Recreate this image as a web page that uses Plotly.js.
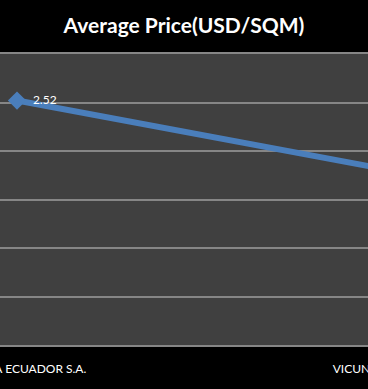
<!DOCTYPE html>
<html>
<head>
<meta charset="utf-8">
<script src="https://cdn.plot.ly/plotly-3.0.1.min.js"></script>
<style>
  html, body { margin: 0; padding: 0; background: #000; width: 368px; height: 389px; overflow: hidden; }
  #wrap { position: absolute; left: 0; top: 0; width: 368px; height: 389px; overflow: hidden; }
  #chart { position: absolute; left: -60px; top: 0; width: 528px; height: 389px; }
</style>
</head>
<body>
<div id="wrap"><div id="chart"></div></div>
<script>
const categories = ["VICUNHA ECUADOR S.A.", "VICUNHA TEXTIL S.A."];
const avgPrice = [2.52, 1.80];
const priceLabels = ["2.52", "1.80"];
const yTicks = [0, 0.5, 1, 1.5, 2, 2.5, 3];

const trace = {
  x: [0, 1],
  y: avgPrice,
  type: 'scatter',
  mode: 'lines+markers+text',
  text: priceLabels.map(t => '\u00a0\u00a0' + t),
  textposition: 'middle right',
  textfont: { family: 'Lato, sans-serif', size: 12, color: '#ffffff' },
  line: { color: '#4a7ebb', width: 6 },
  marker: { symbol: 'diamond', size: 14, color: '#4a7ebb' },
  cliponaxis: false,
  hoverinfo: 'skip'
};

const layout = {
  width: 528,
  height: 389,
  paper_bgcolor: '#000000',
  plot_bgcolor: '#404040',
  margin: { l: 0, r: 0, t: 54, b: 44 },
  showlegend: false,
  title: {
    text: '<b>Average Price(USD/SQM)</b>',
    x: (184 + 60) / 528,
    xanchor: 'center',
    y: 1 - 26 / 389,
    yanchor: 'middle',
    font: { family: 'Lato, sans-serif', size: 21, color: '#ffffff' }
  },
  xaxis: {
    range: [-77 / 375, (528 - 77) / 375],
    tickmode: 'array',
    tickvals: [0, 1],
    ticktext: categories,
    showgrid: false,
    zeroline: false,
    showline: true,
    mirror: true,
    linecolor: '#868686',
    linewidth: 2,
    ticks: 'outside',
    ticklen: 12,
    tickcolor: 'rgba(0,0,0,0)',
    tickfont: { family: 'Lato, sans-serif', size: 12, color: '#ffffff' }
  },
  yaxis: {
    range: [0, 3],
    tickmode: 'array',
    tickvals: yTicks,
    showticklabels: false,
    showgrid: true,
    gridcolor: '#868686',
    gridwidth: 2,
    zeroline: false,
    showline: false,
    ticks: ''
  }
};

Plotly.newPlot('chart', [trace], layout, { displayModeBar: false, staticPlot: true });
</script>
</body>
</html>
